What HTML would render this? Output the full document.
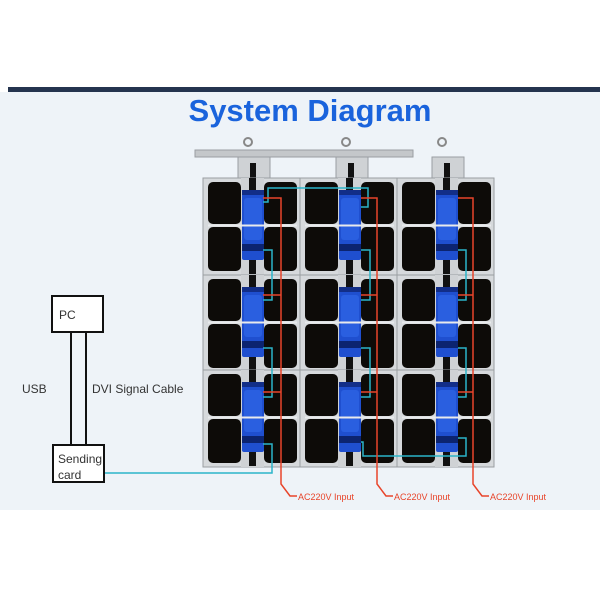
<!DOCTYPE html>
<html><head><style>
html,body{margin:0;padding:0;background:#fff;}
svg{display:block;font-family:"Liberation Sans",sans-serif;}
</style></head><body>
<svg width="600" height="600" viewBox="0 0 600 600" xmlns="http://www.w3.org/2000/svg">
<defs>
<g id="cab">
  <rect x="0" y="0" width="97" height="97" fill="#d6d9dc" stroke="#9a9ea2" stroke-width="1"/>
  <rect x="5" y="4" width="33" height="42" rx="5" fill="#0d0b08"/>
  <rect x="5" y="49" width="33" height="44" rx="5" fill="#0d0b08"/>
  <rect x="61" y="4" width="33" height="42" rx="5" fill="#0d0b08"/>
  <rect x="61" y="49" width="33" height="44" rx="5" fill="#0d0b08"/>
  <rect x="38" y="0" width="23" height="97" fill="#cfd2d5"/>
  <rect x="46" y="0" width="7" height="12" fill="#111"/>
  <rect x="46" y="82" width="7" height="14" fill="#111"/>
  <rect x="39" y="12" width="22" height="70" rx="2" fill="#1f4fcf"/>
  <rect x="39" y="12" width="22" height="5" fill="#122e88"/>
  <rect x="39" y="66" width="22" height="7" fill="#0c2470"/>
  <rect x="41" y="20" width="18" height="42" rx="3" fill="#2a5fe0"/>
  <line x1="5" y1="47.5" x2="94" y2="47.5" stroke="#e8eaec" stroke-width="2"/>
</g>
</defs>
<rect x="0" y="0" width="600" height="600" fill="#fff"/>
<rect x="0" y="92" width="600" height="418" fill="#eef3f8"/>
<rect x="8" y="87" width="592" height="5" fill="#24344f"/>
<text x="310" y="121" text-anchor="middle" font-size="31" font-weight="bold" fill="#1a63dc">System Diagram</text>

<!-- hanging bar -->
<rect x="195" y="150" width="218" height="7" fill="#c4c7ca" stroke="#9a9ea2"/>
<g fill="#cfd2d5" stroke="#9a9ea2">
  <rect x="238" y="157" width="32" height="23"/>
  <rect x="336" y="157" width="32" height="23"/>
  <rect x="432" y="157" width="32" height="23"/>
</g>
<g fill="none" stroke="#888" stroke-width="2">
  <circle cx="248" cy="142" r="4"/><circle cx="346" cy="142" r="4"/><circle cx="442" cy="142" r="4"/>
</g>
<g fill="#111">
  <rect x="250" y="163" width="6" height="17"/><rect x="348" y="163" width="6" height="17"/><rect x="444" y="163" width="6" height="17"/>
</g>

<use href="#cab" x="203" y="178"/><use href="#cab" x="300" y="178"/><use href="#cab" x="397" y="178"/>
<use href="#cab" x="203" y="275"/><use href="#cab" x="300" y="275"/><use href="#cab" x="397" y="275"/>
<use href="#cab" x="203" y="370"/><use href="#cab" x="300" y="370"/><use href="#cab" x="397" y="370"/>

<!-- cyan data lines -->
<g fill="none" stroke="#2bb5c9" stroke-width="1.5">
  <polyline points="105,473 272,473 272,444 263,444"/>
  <polyline points="263,397 272,397 272,348 263,348"/>
  <polyline points="263,300 272,300 272,250 263,250"/>
  <polyline points="263,202 268,202 268,188 368,188 368,207 361,207"/>
  <polyline points="361,250 370,250 370,300 361,300"/>
  <polyline points="361,348 370,348 370,397 361,397"/>
  <polyline points="361,442 363,442 363,456 466,456 466,438 458,438"/>
  <polyline points="458,397 466,397 466,348 458,348"/>
  <polyline points="458,300 466,300 466,250 458,250"/>
</g>
<!-- red power lines -->
<g fill="none" stroke="#e8442a" stroke-width="1.5">
  <polyline points="263,198 281,198 281,484 290,496 297,496"/>
  <line x1="263" y1="295" x2="281" y2="295"/><line x1="263" y1="392" x2="281" y2="392"/>
  <polyline points="361,198 377,198 377,484 386,496 393,496"/>
  <line x1="361" y1="295" x2="377" y2="295"/><line x1="361" y1="392" x2="377" y2="392"/>
  <polyline points="458,198 473,198 473,484 482,496 489,496"/>
  <line x1="458" y1="295" x2="473" y2="295"/><line x1="458" y1="392" x2="473" y2="392"/>
</g>
<g font-size="9" fill="#e8442a">
  <text x="298" y="500">AC220V Input</text>
  <text x="394" y="500">AC220V Input</text>
  <text x="490" y="500">AC220V Input</text>
</g>

<!-- PC / sending card -->
<rect x="52" y="296" width="51" height="36" fill="#fff" stroke="#111" stroke-width="2"/>
<text x="59" y="319" font-size="12" fill="#333">PC</text>
<line x1="71" y1="332" x2="71" y2="445" stroke="#111" stroke-width="2"/>
<line x1="86" y1="332" x2="86" y2="445" stroke="#111" stroke-width="2"/>
<rect x="53" y="445" width="51" height="37" fill="#fff" stroke="#111" stroke-width="2"/>
<text x="58" y="463" font-size="12" fill="#333">Sending</text>
<text x="58" y="479" font-size="12" fill="#333">card</text>
<text x="22" y="393" font-size="12" fill="#333">USB</text>
<text x="92" y="393" font-size="12" fill="#333">DVI Signal Cable</text>
</svg>
</body></html>
